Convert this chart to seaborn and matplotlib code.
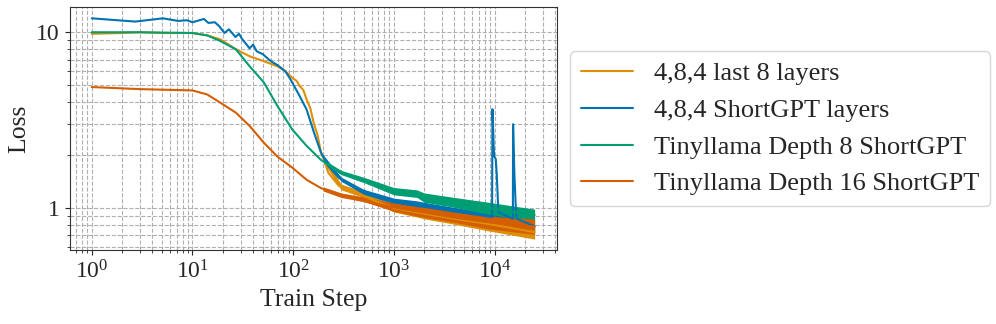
import numpy as np
import pandas as pd
import matplotlib
matplotlib.use("Agg")
import matplotlib.pyplot as plt
import matplotlib.ticker as mticker
import seaborn as sns

# series names (legend order)
series_names = ['4,8,4 last 8 layers', '4,8,4 ShortGPT layers',
                'Tinyllama Depth 8 ShortGPT', 'Tinyllama Depth 16 ShortGPT']

# 4,8,4 last 8 layers
last8_steps = [1, 2, 3, 5, 7, 10, 14, 19, 27, 37, 51, 70, 84, 98, 108, 116, 126, 136,
               148, 161, 175, 189, 205, 223, 284, 360, 430, 600, 1000, 2000, 4000, 9000, 15000, 25000]
last8_loss = [9.8, 9.9, 10.0, 9.9, 9.9, 9.9, 9.6, 9.1, 8.0, 7.3, 6.85, 6.4, 6.0, 5.5, 5.3, 4.95, 4.7, 4.15,
              3.7, 3.0, 2.6, 2.07, 1.85, 1.59, 1.34, 1.27, 1.21, 1.12, 1.0, 0.93, 0.87, 0.81, 0.77, 0.73]

# 4,8,4 ShortGPT layers (with two loss spikes near 1e4)
short_steps = [1, 2.7, 5.1, 7.2, 8.8, 10, 13, 14.4, 16.7, 18.5, 20.8, 23, 26.7, 29, 31.3, 34,
               36.9, 40, 43.4, 50, 60, 70, 83.6, 94, 116, 136, 161, 189, 223, 284, 340, 428,
               600, 1000, 2000, 4000, 9450, 9530, 9890, 10280, 10520, 10920, 15200, 15280,
               15740, 16230, 16600, 25000]
short_loss = [12.0, 11.5, 12.0, 11.6, 11.7, 11.4, 11.9, 11.3, 11.4, 10.8, 9.9, 10.4, 9.4, 9.8, 9.1, 8.6,
              8.1, 8.5, 7.8, 7.5, 6.85, 6.5, 6.0, 5.4, 4.34, 3.64, 2.69, 2.07, 1.74, 1.49, 1.40, 1.30,
              1.20, 1.11, 1.04, 0.96, 0.89, 3.65, 1.98, 1.90, 1.55, 0.95, 0.87, 3.0,
              1.56, 1.03, 0.87, 0.79]

# Tinyllama Depth 8 ShortGPT
d8_steps = [1, 3, 10, 14, 19, 27, 37, 51, 70, 98, 136, 189, 263, 340, 430, 600, 910,
            1700, 2000, 4000, 9000, 25000]
d8_loss = [10.0, 10.0, 9.9, 9.6, 8.9, 8.0, 6.4, 5.2, 3.8, 2.8, 2.26, 1.88, 1.66, 1.55, 1.46, 1.38, 1.25,
           1.21, 1.15, 1.08, 1.0, 0.915]

# Tinyllama Depth 16 ShortGPT
d16_steps = [1, 3, 10, 14, 19, 27, 37, 51, 70, 98, 136, 189, 300, 430, 910, 2000, 4000, 9000, 25000]
d16_loss = [4.88, 4.75, 4.67, 4.43, 3.97, 3.49, 2.93, 2.36, 1.96, 1.70, 1.45, 1.30, 1.18, 1.12,
            1.02, 0.945, 0.885, 0.83, 0.785]

# noisy tail bands (low / high envelope)
tail_steps = [200, 300, 500, 1000, 1700, 2000, 4000, 9000, 25000]
last8_low = [1.82, 1.27, 1.15, 0.95, 0.89, 0.87, 0.81, 0.74, 0.667]
last8_high = [1.98, 1.37, 1.24, 1.05, 1.00, 0.98, 0.93, 0.87, 0.80]
short_low = [1.90, 1.42, 1.20, 1.06, 1.01, 0.99, 0.91, 0.83, 0.73]
short_high = [2.00, 1.50, 1.28, 1.14, 1.10, 1.08, 1.01, 0.94, 0.85]
d8_low = [1.79, 1.55, 1.40, 1.19, 1.15, 1.08, 1.01, 0.92, 0.847]
d8_high = [1.89, 1.64, 1.50, 1.31, 1.27, 1.22, 1.15, 1.077, 0.987]
d16_low = [1.25, 1.15, 1.09, 0.96, 0.90, 0.885, 0.83, 0.76, 0.71]
d16_high = [1.32, 1.22, 1.16, 1.07, 1.02, 1.01, 0.95, 0.90, 0.866]

sns.set_style("ticks")
plt.rcParams['font.family'] = ['Liberation Serif', 'DejaVu Serif']
plt.rcParams['mathtext.fontset'] = 'custom'
plt.rcParams['mathtext.rm'] = 'Liberation Serif'
plt.rcParams['mathtext.it'] = 'Liberation Serif:italic'
plt.rcParams['axes.edgecolor'] = '#333333'

pal = sns.color_palette('colorblind')
colors = [pal[1], pal[0], pal[2], pal[3]]

fig = plt.figure(figsize=(9.96, 3.24), dpi=100)
ax = fig.add_axes([0.0699, 0.228, 0.559 - 0.0699, 0.9775 - 0.228])

lines = [(last8_steps, last8_loss, last8_low, last8_high),
         (short_steps, short_loss, short_low, short_high),
         (d8_steps, d8_loss, d8_low, d8_high),
         (d16_steps, d16_loss, d16_low, d16_high)]

for (st, lo, blo, bhi), name, c in zip(lines, series_names, colors):
    ax.fill_between(tail_steps, blo, bhi, color=c, linewidth=0)
    sns.lineplot(x=st, y=lo, ax=ax, color=c, label=name, linewidth=1.5)

ax.set_xscale('log')
ax.set_yscale('log')
ax.yaxis.set_major_formatter(mticker.FuncFormatter(lambda v, p: f"{v:g}"))
ax.yaxis.set_minor_formatter(mticker.NullFormatter())
ax.grid(True, which='both', linestyle='--', color='#b0b0b0', linewidth=0.8)
ax.tick_params(labelsize=17)
ax.set_xlabel('Train Step', fontsize=18.5)
ax.set_ylabel('Loss', fontsize=18.5)

ax.legend(loc='center left', bbox_to_anchor=(1, 0.5), fontsize=19)

fig.savefig('out.png', dpi=100)
